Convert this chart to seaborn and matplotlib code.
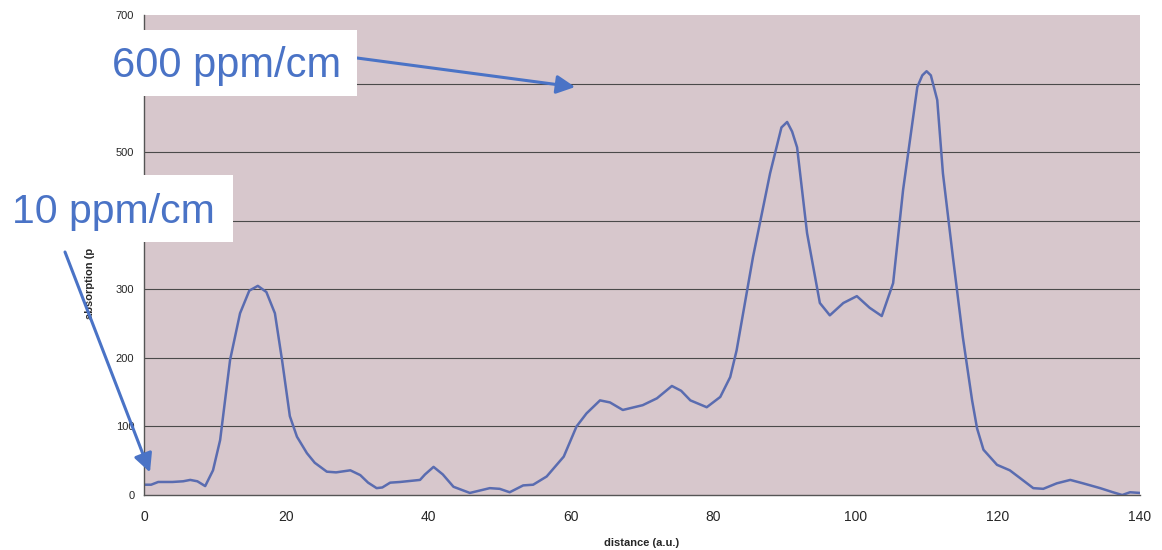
import numpy as np
import pandas as pd
import matplotlib
matplotlib.use('Agg')
import matplotlib.pyplot as plt
import matplotlib.patches as mpatches
import seaborn as sns

# absorption profile
distance = [0, 1, 2, 4, 5.5, 6.5, 7.5, 8.6, 9.7, 10.7, 12.1, 13.5, 14.8, 16, 17.2,
            18.4, 19.4, 20.5, 21.5, 22.9, 24, 25.7, 27, 29, 30.4, 31.5, 32.7, 33.5,
            34.6, 36, 38.8, 39.5, 40.7, 42, 43.5, 45.8, 47, 48.6, 50, 51.4, 53.3,
            54.7, 56.6, 59, 60.8, 62.2, 64.1, 65.5, 67.3, 70.1, 72.1, 74.2, 75.5,
            76.8, 79.1, 81, 82.4, 83.3, 85.6, 88, 89.6, 90.4, 91.1, 91.8, 93.2, 95,
            96.4, 98.3, 100.2, 102, 103.7, 105.3, 106.7, 108.7, 109.4, 110, 110.6,
            111.5, 112.3, 113.7, 115.1, 116.4, 117.1, 118, 119.9, 121.7, 123.1, 125,
            126.4, 128.3, 130.2, 132, 134.4, 136.2, 137.5, 138.6, 140]
absorption = [15, 15, 19, 19, 20, 22, 20, 13, 36, 80, 197, 265, 298, 305, 296,
              265, 197, 115, 85, 61, 47, 34, 33, 36, 29, 18, 10, 11,
              18, 19, 22, 30, 41, 30, 12, 3, 6, 10, 9, 4, 14,
              15, 27, 56, 100, 119, 138, 135, 124, 131, 141, 159, 152,
              138, 128, 143, 172, 211, 347, 469, 536, 544, 530, 507, 382, 280,
              262, 280, 290, 273, 261, 309, 445, 595, 612, 618, 612,
              576, 469, 347, 230, 138, 97, 66, 44, 36, 25, 10,
              9, 17, 22, 17, 10, 4, 0, 4, 3]

x_ticks = [0, 20, 40, 60, 80, 100, 120, 140]
y_ticks = [0, 100, 200, 300, 400, 500, 600, 700]
# 400 and 600 are hidden behind the white callout boxes in the original
y_ticklabels = ['0', '100', '200', '300', '', '500', '', '700']

df = pd.DataFrame({'distance': distance, 'absorption': absorption})

sns.set_style('white')
plt.rcParams['font.family'] = ['Liberation Sans', 'DejaVu Sans']

fig = plt.figure(figsize=(11.62, 5.5), dpi=100)
ax = fig.add_axes([144/1162, 55/550, 996/1162, 480/550])
ax.set_facecolor('#d7c7cc')

sns.lineplot(x='distance', y='absorption', data=df, ax=ax, color='#5a6cb0', linewidth=1.8)

ax.set_xlim(0, 140)
ax.set_ylim(0, 700)
ax.set_xticks(x_ticks)
ax.set_yticks(y_ticks)
ax.set_yticklabels(y_ticklabels)
ax.tick_params(axis='x', labelsize=10, length=4, color='#555555', pad=7)
ax.tick_params(axis='y', labelsize=8, length=4, color='#555555', pad=3)
for y in y_ticks[1:-1]:
    ax.axhline(y, color='#4a4a4a', linewidth=0.8, zorder=1)

for s in ['top', 'right']:
    ax.spines[s].set_visible(False)
for s in ['left', 'bottom']:
    ax.spines[s].set_color('#555555')
    ax.spines[s].set_linewidth(1.0)

ax.set_xlabel('distance (a.u.)', fontsize=8, fontweight='bold', labelpad=10)
ax.set_ylabel('absorption (p', fontsize=8, fontweight='bold')
ax.yaxis.set_label_coords(-0.049, 0.44)

# white annotation boxes
blue = '#4a73c6'
fig.add_artist(mpatches.Rectangle((95/1162, 454/550), 262/1162, 66/550,
                                  transform=fig.transFigure, facecolor='white',
                                  edgecolor='none', zorder=5))
fig.add_artist(mpatches.Rectangle((0, 308/550), 233/1162, 67/550,
                                  transform=fig.transFigure, facecolor='white',
                                  edgecolor='none', zorder=5))
fig.text(112/1162, 473/550, '600 ppm/cm', fontsize=30, color=blue,
         va='baseline', ha='left', zorder=6)
fig.text(12/1162, 327/550, '10 ppm/cm', fontsize=29.5, color=blue,
         va='baseline', ha='left', zorder=6)

arrow = dict(arrowstyle='-|>', color=blue, lw=2.2, mutation_scale=28,
             shrinkA=0, shrinkB=0)
ax.annotate('', xy=(60.6, 595), xycoords='data', xytext=(357, 492),
            textcoords='figure pixels', arrowprops=arrow, annotation_clip=False,
            zorder=7)
ax.annotate('', xy=(0.84, 33), xycoords='data', xytext=(65, 298),
            textcoords='figure pixels', arrowprops=arrow, annotation_clip=False,
            zorder=7)

plt.savefig('out.png', dpi=100)
